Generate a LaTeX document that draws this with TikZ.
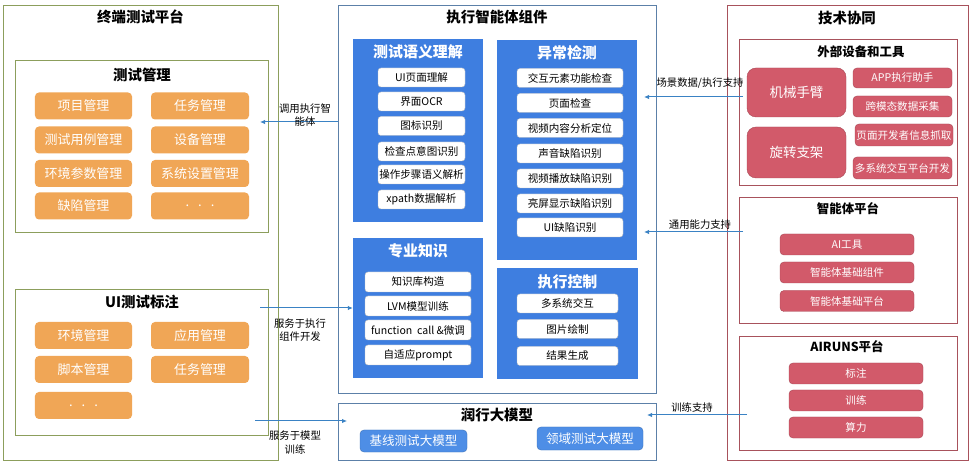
\documentclass[tikz,border=0pt]{standalone}
\usepackage{fontspec}
\setmainfont{Noto Sans CJK SC}
\usetikzlibrary{arrows.meta}
\definecolor{olive}{RGB}{140,158,92}
\definecolor{orng}{RGB}{240,166,86}
\definecolor{midframe}{RGB}{92,128,168}
\definecolor{pblue}{RGB}{62,126,224}
\definecolor{bblue}{RGB}{78,142,230}
\definecolor{redframe}{RGB}{168,82,92}
\definecolor{rfill}{RGB}{210,90,106}
\definecolor{arrblue}{RGB}{58,130,196}
\tikzset{
  frame/.style={draw=#1, line width=0.8bp, fill=none, inner sep=0},
  ttl/.style={font=\fontsize{14.5}{16}\selectfont\bfseries, text=black},
  sttl/.style={font=\fontsize{12.5}{14}\selectfont\bfseries, text=black},
  obox/.style={fill=orng, rounded corners=4bp, text=white, inner sep=0,
    font=\fontsize{13}{15}\selectfont, minimum height=27bp},
  panel/.style={fill=pblue, inner sep=0},
  ptitle/.style={font=\fontsize{15}{17}\selectfont\bfseries, text=white},
  wbox/.style={fill=white, draw=black!25, rounded corners=3bp, inner sep=0,
    font=\fontsize{10.6}{12}\selectfont, minimum height=19bp},
  bbtn/.style={fill=bblue, draw=bblue!80!black, rounded corners=4bp, inner sep=0, text=white,
    font=\fontsize{12.6}{14}\selectfont, minimum height=22bp},
  rbox/.style={fill=rfill, draw=rfill!80!black, rounded corners=4bp, inner sep=0, text=white,
    font=\fontsize{10.6}{12}\selectfont, minimum height=21bp},
  rbig/.style={fill=rfill, draw=rfill!80!black, rounded corners=9bp, inner sep=0, text=white,
    font=\fontsize{13.5}{15}\selectfont},
  arr/.style={draw=arrblue, line width=1bp, -{Latex[length=5bp,width=4.5bp]}},
  lbl/.style={font=\fontsize{10.4}{13.5}\selectfont, align=center, text=black, inner sep=0},
}
\begin{document}
\begin{tikzpicture}[x=1bp,y=-1bp]
\useasboundingbox[fill=white] (0,0) rectangle (974,467);

% ---------- Left platform ----------
\node[frame=olive, minimum width=275bp, minimum height=455bp] (lt) at (140.5,232.5) {};
\node[ttl] (ltT) at (140.5,17) {终端测试平台};
\node[frame=olive, minimum width=253bp, minimum height=172bp] (tm) at (141.5,146) {};
\node[ttl] (tmT) at (142,75) {测试管理};
\node[obox, minimum width=97bp] (o1) at (83.5,106) {项目管理};
\node[obox, minimum width=98bp] (o2) at (200,106) {任务管理};
\node[obox, minimum width=97bp] (o3) at (83.5,140) {测试用例管理};
\node[obox, minimum width=98bp] (o4) at (200,140) {设备管理};
\node[obox, minimum width=97bp] (o5) at (83.5,173.5) {环境参数管理};
\node[obox, minimum width=98bp] (o6) at (200,173.5) {系统设置管理};
\node[obox, minimum width=97bp] (o7) at (83.5,206) {缺陷管理};
\node[obox, minimum width=98bp] (o8) at (200,206) {.\hspace{9bp}.\hspace{9bp}.};

\node[frame=olive, minimum width=253bp, minimum height=146bp] (ui) at (141.5,362) {};
\node[ttl] (uiT) at (142,302) {UI测试标注};
\node[obox, minimum width=97bp] (u1) at (83.5,335.5) {环境管理};
\node[obox, minimum width=98bp] (u2) at (200,335.5) {应用管理};
\node[obox, minimum width=97bp] (u3) at (83.5,369.5) {脚本管理};
\node[obox, minimum width=98bp] (u4) at (200,369.5) {任务管理};
\node[obox, minimum width=97bp] (u5) at (83.5,405.5) {.\hspace{9bp}.\hspace{9bp}.};

% ---------- Middle ----------
\node[frame=midframe, minimum width=318bp, minimum height=388bp] (mid) at (497,199) {};
\node[ttl] (midT) at (497,17) {执行智能体组件};

\node[panel, minimum width=130bp, minimum height=183bp] (p1) at (418,130.5) {};
\node[ptitle] (p1T) at (418,52) {测试语义理解};
\node[wbox, minimum width=87bp] (s1) at (421.5,77.5) {UI页面理解};
\node[wbox, minimum width=87bp] (s2) at (421.5,101.5) {界面OCR};
\node[wbox, minimum width=87bp] (s3) at (421.5,126) {图标识别};
\node[wbox, minimum width=87bp] (s4) at (421.5,151.5) {检查点意图识别};
\node[wbox, minimum width=87bp] (s5) at (421.5,174.5) {操作步骤语义解析};
\node[wbox, minimum width=87bp] (s6) at (421.5,199.5) {xpath数据解析};

\node[panel, minimum width=130bp, minimum height=140bp] (p2) at (418,308) {};
\node[ptitle] (p2T) at (418,251) {专业知识};
\node[wbox, minimum width=106bp, minimum height=20bp] (k1) at (418,282) {知识库构造};
\node[wbox, minimum width=106bp, minimum height=20bp] (k2) at (418,306) {LVM模型训练};
\node[wbox, minimum width=106bp, minimum height=20bp] (k3) at (418,330) {function\ \ call\ \&微调};
\node[wbox, minimum width=106bp, minimum height=20bp] (k4) at (418,355) {自适应prompt};

\node[panel, minimum width=140bp, minimum height=220bp] (p3) at (567,150) {};
\node[ptitle] (p3T) at (567,53) {异常检测};
\node[wbox, minimum width=106bp] (e1) at (570,78) {交互元素功能检查};
\node[wbox, minimum width=106bp] (e2) at (570,103) {页面检查};
\node[wbox, minimum width=106bp] (e3) at (570,128) {视频内容分析定位};
\node[wbox, minimum width=106bp] (e4) at (570,153.5) {声音缺陷识别};
\node[wbox, minimum width=106bp] (e5) at (570,178.5) {视频播放缺陷识别};
\node[wbox, minimum width=106bp] (e6) at (570,203.5) {亮屏显示缺陷识别};
\node[wbox, minimum width=106bp] (e7) at (570,227.5) {UI缺陷识别};

\node[panel, minimum width=141bp, minimum height=111bp] (p4) at (567.5,323.5) {};
\node[ptitle] (p4T) at (567.5,282) {执行控制};
\node[wbox, minimum width=101bp] (c1) at (567.5,303.5) {多系统交互};
\node[wbox, minimum width=101bp] (c2) at (567.5,329) {图片绘制};
\node[wbox, minimum width=101bp] (c3) at (567.5,356) {结果生成};

\node[frame=midframe, minimum width=318bp, minimum height=57bp] (llm) at (497,431.5) {};
\node[ttl] (llmT) at (497,415) {润行大模型};
\node[bbtn, minimum width=107bp] (b1) at (413.5,441) {基线测试大模型};
\node[bbtn, minimum width=106bp, minimum height=23bp] (b2) at (590,438.5) {领域测试大模型};

% ---------- Right ----------
\node[frame=redframe, minimum width=241bp, minimum height=455bp] (rt) at (847.5,232.5) {};
\node[ttl] (rtT) at (847,18) {技术协同};

\node[frame=redframe, minimum width=218bp, minimum height=146bp] (ext) at (848,112) {};
\node[sttl] (extT) at (861,52) {外部设备和工具};
\node[rbig, minimum width=99bp, minimum height=49bp] (r1) at (796.5,92.5) {机械手臂};
\node[rbig, minimum width=99bp, minimum height=51bp] (r2) at (796.5,152.5) {旋转支架};
\node[rbox, minimum width=99bp, minimum height=20bp] (r3) at (902.5,78) {APP执行助手};
\node[rbox, minimum width=99bp] (r4) at (902.5,106.5) {跨模态数据采集};
\node[rbox, minimum width=98bp, minimum height=22bp] (r5) at (904,135) {页面开发者信息抓取};
\node[rbox, minimum width=99bp, minimum height=22bp] (r6) at (902.5,168) {多系统交互平台开发};

\node[frame=redframe, minimum width=218bp, minimum height=126bp] (agp) at (848,260) {};
\node[sttl] (agpT) at (848,209) {智能体平台};
\node[rbox, minimum width=134bp] (g1) at (847,244.5) {AI工具};
\node[rbox, minimum width=134bp] (g2) at (847,272.5) {智能体基础组件};
\node[rbox, minimum width=134bp] (g3) at (847,301) {智能体基础平台};

\node[frame=redframe, minimum width=218bp, minimum height=114bp] (air) at (848,393) {};
\node[sttl] (airT) at (847,347) {AIRUNS平台};
\node[rbox, minimum width=134bp] (n1) at (856,373.5) {标注};
\node[rbox, minimum width=134bp] (n2) at (856,400.5) {训练};
\node[rbox, minimum width=134bp] (n3) at (856,427.5) {算力};

% ---------- Connectors ----------
\coordinate (a1e) at (260,122);
\draw[arr] (mid.west |- a1e) -- (a1e);
\node[lbl] (a1L) at (305,115) {调用执行智\\能体};

\coordinate (a2s) at (260,308);
\draw[arr] (a2s) -- (p2.west);
\node[lbl] (a2L) at (300,330) {服务于执行\\组件开发};

\coordinate (a3s) at (255,421);
\coordinate (a3e) at (347,421);
\draw[arr] (a3s) -- (a3e);
\node[lbl] (a3L) at (295,442.5) {服务于模型\\训练};

\coordinate (a4s) at (743,97);
\coordinate (a4e) at (644,97);
\draw[arr] (a4s) -- (a4e);
\node[lbl] (a4L) at (700,83) {场景数据/执行支持};

\coordinate (a5s) at (743,232);
\coordinate (a5e) at (644,232);
\draw[arr] (a5s) -- (a5e);
\node[lbl] (a5L) at (700,225) {通用能力支持};

\coordinate (a6s) at (747,415);
\coordinate (a6e) at (647,415);
\draw[arr] (a6s) -- (a6e);
\node[lbl] (a6L) at (692,408) {训练支持};
\end{tikzpicture}
\end{document}
